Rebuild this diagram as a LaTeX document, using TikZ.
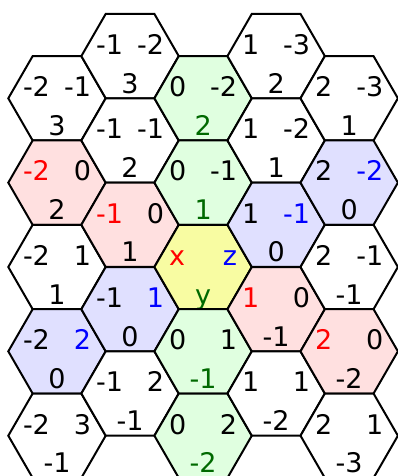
\documentclass[tikz,border=0pt]{standalone}
\usepackage{fontspec}
\setmainfont{DejaVu Sans}
\definecolor{labR}{RGB}{255,0,0}
\definecolor{labB}{RGB}{0,0,255}
\definecolor{labG}{RGB}{0,105,0}
\definecolor{fillR}{RGB}{255,224,224}
\definecolor{fillB}{RGB}{224,224,255}
\definecolor{fillG}{RGB}{224,255,224}
\definecolor{fillY}{RGB}{248,252,162}
\tikzset{
  hexline/.style={draw=black, line width=2pt, line join=miter},
  lab/.style={font=\fontsize{27}{32}\selectfont, inner sep=0pt, outer sep=0pt},
}
% #1 name, #2 cx, #3 cy, #4 fill, #5 left, #6 right, #7 bottom
\newcommand{\hexcell}[7]{%
  \filldraw[hexline, fill=#4] (#2,#3) +(0:48.7pt) -- +(60:48.7pt) -- +(120:48.7pt)
     -- +(180:48.7pt) -- +(240:48.7pt) -- +(300:48.7pt) -- cycle;
  \node[lab, anchor=base west] (#1l) at ([shift={(-34,-1.7)}]#2,#3) {#5};
  \node[lab, anchor=base east] (#1r) at ([shift={(34,-1.7)}]#2,#3) {#6};
  \node[lab, anchor=base] (#1b) at ([shift={(0,37)}]#2,#3) {#7};
}
\newcommand{\R}[1]{\textcolor{labR}{#1}}
\newcommand{\B}[1]{\textcolor{labB}{#1}}
\newcommand{\G}[1]{\textcolor{labG}{#1}}
\begin{document}
\begin{tikzpicture}[x=1pt, y=-1pt]
\useasboundingbox (0,0) rectangle (398,476);
\fill[white] (0,0) rectangle (398,476);
% column 0
\hexcell{a1}{57}{98.3}{white}{-2}{-1}{3}
\hexcell{a2}{57}{182.65}{fillR}{\R{-2}}{0}{2}
\hexcell{a3}{57}{267}{white}{-2}{1}{1}
\hexcell{a4}{57}{351.35}{fillB}{-2}{\B{2}}{0}
\hexcell{a5}{57}{435.7}{white}{-2}{3}{-1}
% column 1
\hexcell{b1}{130.05}{56.1}{white}{-1}{-2}{3}
\hexcell{b2}{130.05}{140.5}{white}{-1}{-1}{2}
\hexcell{b3}{130.05}{224.8}{fillR}{\R{-1}}{0}{1}
\hexcell{b4}{130.05}{309.2}{fillB}{-1}{\B{1}}{0}
\hexcell{b5}{130.05}{393.5}{white}{-1}{2}{-1}
% column 2
\hexcell{c1}{203.1}{98.3}{fillG}{0}{-2}{\G{2}}
\hexcell{c2}{203.1}{182.65}{fillG}{0}{-1}{\G{1}}
\hexcell{c3}{203.1}{267}{fillY}{\R{x}}{\B{z}}{\G{y}}
\hexcell{c4}{203.1}{351.35}{fillG}{0}{1}{\G{-1}}
\hexcell{c5}{203.1}{435.7}{fillG}{0}{2}{\G{-2}}
% column 3
\hexcell{d1}{276.15}{56.1}{white}{1}{-3}{2}
\hexcell{d2}{276.15}{140.5}{white}{1}{-2}{1}
\hexcell{d3}{276.15}{224.8}{fillB}{1}{\B{-1}}{0}
\hexcell{d4}{276.15}{309.2}{fillR}{\R{1}}{0}{-1}
\hexcell{d5}{276.15}{393.5}{white}{1}{1}{-2}
% column 4
\hexcell{e1}{349.2}{98.3}{white}{2}{-3}{1}
\hexcell{e2}{349.2}{182.65}{fillB}{2}{\B{-2}}{0}
\hexcell{e3}{349.2}{267}{white}{2}{-1}{-1}
\hexcell{e4}{349.2}{351.35}{fillR}{\R{2}}{0}{-2}
\hexcell{e5}{349.2}{435.7}{white}{2}{1}{-3}
\end{tikzpicture}
\end{document}
